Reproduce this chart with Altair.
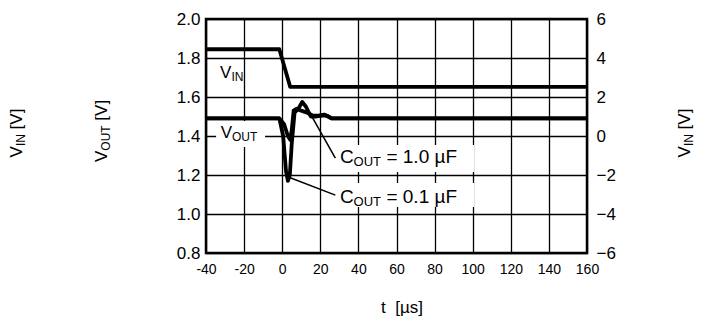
import altair as alt
import pandas as pd

FONT = "Liberation Sans"

# ---------------- data ----------------
x_ticks = [-40, -20, 0, 20, 40, 60, 80, 100, 120, 140, 160]
y_ticks = [0.8, 1.0, 1.2, 1.4, 1.6, 1.8, 2.0]
y2_ticks = [-6, -4, -2, 0, 2, 4, 6]

t_vin = [-40, -1.5, 4.2, 160]
v_in = [1.845, 1.845, 1.652, 1.652]

t_c01 = [-40, -1.5, 0.5, 2, 3, 4, 5, 6.5, 8.5, 10.5, 12.5, 15, 18, 21, 23.5, 26, 160]
v_c01 = [1.49, 1.49, 1.40, 1.22, 1.17, 1.20, 1.36, 1.52, 1.54, 1.575, 1.55, 1.50, 1.50, 1.505, 1.505, 1.49, 1.49]

t_c10 = [-40, -1.5, 1, 3, 4.2, 5, 6, 7.5, 10, 13, 16, 19, 22, 26, 160]
v_c10 = [1.49, 1.49, 1.46, 1.40, 1.38, 1.43, 1.53, 1.54, 1.53, 1.52, 1.505, 1.505, 1.51, 1.49, 1.49]

# annotation boxes (white backgrounds), in data units
box_t = [-34.7, 28.4, 28.4]
box_t2 = [-9.0, 100.8, 100.8]
box_v = [1.344, 1.215, 1.036]
box_v2 = [1.477, 1.354, 1.159]

# leader lines
lead_t = [15.6, 3.2]
lead_t2 = [27.9, 27.9]
lead_v = [1.499, 1.19]
lead_v2 = [1.286, 1.097]

# ---------------- scales / axes ----------------
xs = alt.Scale(domain=[-40, 160], nice=False, zero=False)
ys = alt.Scale(domain=[0.8, 2.0], nice=False, zero=False)
ys2 = alt.Scale(domain=[-6, 6], nice=False, zero=False)

common_axis = dict(grid=True, gridColor="black", gridWidth=1.3, gridOpacity=1,
                   domain=False, ticks=False, labelFont=FONT, labelColor="black",
                   labelOverlap=False, labelFlush=False, title=None)

xaxis = alt.Axis(values=x_ticks, labelFontSize=14, labelPadding=9,
                 labelExpr="'' + datum.value", **common_axis)
yaxis = alt.Axis(values=y_ticks, labelFontSize=17, labelPadding=6, format=".1f",
                 **common_axis)
y2axis = alt.Axis(values=y2_ticks, orient="right", grid=False, domain=False, ticks=False,
                  labelFont=FONT, labelColor="black", labelFontSize=17, labelPadding=9,
                  labelOverlap=False, labelFlush=False, title=None,
                  labelExpr="datum.value < 0 ? '\u2212' + abs(datum.value) : '' + datum.value")

X = alt.X("t:Q", scale=xs, axis=xaxis)
Y = alt.Y("v:Q", scale=ys, axis=yaxis)


def curve(ts, vs):
    df = pd.DataFrame({"t": ts, "v": vs})
    return alt.Chart(df).mark_line(color="black", strokeWidth=3.8, strokeJoin="round",
                                   strokeCap="butt").encode(x=X, y=Y)


boxes = alt.Chart(pd.DataFrame({"t": box_t, "t2": box_t2, "v": box_v, "v2": box_v2})).mark_rect(
    color="white", opacity=1).encode(x=X, x2="t2:Q", y=Y, y2="v2:Q")

leaders = alt.Chart(pd.DataFrame({"t": lead_t, "t2": lead_t2, "v": lead_v, "v2": lead_v2})).mark_rule(
    color="black", strokeWidth=1.5).encode(x=X, x2="t2:Q", y=Y, y2="v2:Q")


def dtext(t, v, s, size, dx=0, dy=0):
    df = pd.DataFrame({"t": [t], "v": [v], "s": [s]})
    return alt.Chart(df).mark_text(font=FONT, fontSize=size, align="left", baseline="alphabetic",
                                   dx=dx, dy=dy, color="black").encode(x=X, y=Y, text="s:N")


def ptext(px, py, s, size, dx=0, dy=0, angle=0, align="left"):
    df = pd.DataFrame({"s": [s]})
    return alt.Chart(df).mark_text(font=FONT, fontSize=size, align=align, baseline="alphabetic",
                                   dx=dx, dy=dy, angle=angle, color="black").encode(
        x=alt.value(px), y=alt.value(py), text="s:N")


# in-plot labels
labels = [
    dtext(-32.6, 1.696, "V", 17), dtext(-32.6, 1.696, "IN", 12, dx=11.3, dy=3),
    dtext(-32.3, 1.388, "V", 17), dtext(-32.3, 1.388, "OUT", 12, dx=11.3, dy=3),
    dtext(30.3, 1.26, "C", 19), dtext(30.3, 1.26, "OUT", 13, dx=13.7, dy=3),
    dtext(30.3, 1.26, "= 1.0 \u00b5F", 19, dx=46.5),
    dtext(30.3, 1.055, "C", 19), dtext(30.3, 1.055, "OUT", 13, dx=13.7, dy=3),
    dtext(30.3, 1.055, "= 0.1 \u00b5F", 19, dx=46.5),
]

# axis titles (rotated, with subscripts)
def vtitle(px, py, sub):
    wsub = 12 * (1.0 if sub == "IN" else 2.111)
    return [
        ptext(px, py, "V", 17, angle=270),
        ptext(px, py, sub, 12, dx=11.3, dy=3, angle=270),
        ptext(px, py, "[V]", 17, dx=11.3 + wsub + 4.7, angle=270),
    ]

titles = vtitle(-184, 138.4, "IN") + vtitle(-99, 143, "OUT") + vtitle(484, 138.4, "IN")
titles.append(ptext(196, 294, "t\u00a0\u00a0[\u00b5s]", 17, align="center"))

inner = alt.layer(boxes, curve(t_vin, v_in), curve(t_c01, v_c01), curve(t_c10, v_c10),
                  leaders, *labels, *titles)

right = alt.Chart(pd.DataFrame({"r": y2_ticks})).mark_point(opacity=0).encode(
    x=alt.value(0), y=alt.Y("r:Q", scale=ys2, axis=y2axis))

chart = alt.layer(inner, right).resolve_scale(y="independent").properties(
    width=381, height=234,
    autosize=alt.AutoSizeParams(type="none"),
    padding={"left": 198, "top": 11, "right": 125, "bottom": 66},
).configure_view(stroke="black", strokeWidth=2.5)

chart.save("out.html", embed_options={"renderer": "svg", "actions": False})
